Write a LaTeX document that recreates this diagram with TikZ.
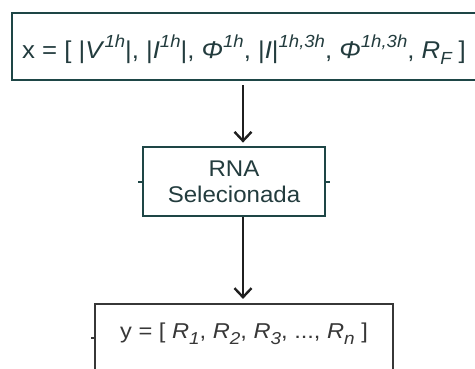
\documentclass[tikz,border=0pt]{standalone}
\usepackage{fontspec}
\usepackage{graphicx}
\setmainfont{Liberation Sans}
\usetikzlibrary{arrows.meta,calc}
\definecolor{boxteal}{RGB}{30,70,70}
\definecolor{boxgray}{RGB}{55,55,55}
\definecolor{txtteal}{RGB}{35,60,62}
\newcommand{\supx}[1]{\raisebox{0.42em}{\scalebox{0.72}{\itshape #1}}}
\newcommand{\subx}[1]{\raisebox{-0.28em}{\scalebox{0.72}{\itshape #1}}}
\newcommand{\suby}[1]{\raisebox{-0.3em}{\scalebox{0.8}{\itshape #1}}}
\newcommand{\wide}[1]{\scalebox{1.06}[1]{#1}}
\tikzset{
  tealbox/.style={draw=boxteal, line width=2.8pt, inner sep=0pt},
  graybox/.style={draw=boxgray, line width=2.2pt, inner sep=0pt},
  arrowline/.style={draw=black!88, line width=2.6pt, -{Straight Barb[length=9pt,width=17pt,line width=2.4pt]}},
  tick/.style={line width=2.6pt},
}
\begin{document}
\begin{tikzpicture}[x=1pt,y=1pt]
\useasboundingbox (0,0) rectangle (475,368);
\clip (0,0) rectangle (475,368);
\fill[white] (0,0) rectangle (475,368);
% top box
\node[tealbox, minimum width=468pt, minimum height=67pt] (xin) at (246,321.5) {};
\node[text=txtteal, font=\fontsize{24.3}{28}\selectfont] (xtext) at (244,318)
  {\wide{x = [ |\textit{V}\supx{1h}|, |\textit{I}\supx{1h}|, \textit{Φ}\supx{1h}, |\textit{I}|\supx{1h,3h}, \textit{Φ}\supx{1h,3h}, \textit{R}\subx{F} ]}};
% middle box
\node[tealbox, minimum width=182pt, minimum height=69pt, text=txtteal, align=center,
      font=\fontsize{22.7}{26}\selectfont] (rna) at (234,186.5) {\wide{RNA}\\\wide{Selecionada}};
% bottom box
\node[graybox, minimum width=298pt, minimum height=76pt] (yout) at (244,26) {};
\node[text=boxgray, font=\fontsize{21.5}{24}\selectfont] (ytext) at (244,34)
  {\scalebox{1.1}[1]{y = [ \textit{R}\suby{1}, \textit{R}\suby{2}, \textit{R}\suby{3}, ..., \textit{R}\suby{n} ]}};
% connectors
\coordinate (ax) at (243,0);
\draw[arrowline, shorten <=4pt, shorten >=3pt] (xin.south -| ax) -- (rna.north -| ax);
\draw[arrowline, shorten >=4pt] (rna.south -| ax) -- (yout.north -| ax);
% stub ticks
\draw[tick, draw=boxteal] ($(rna.west)+(0,-0.5)$) -- ++(-4,0);
\draw[tick, draw=boxteal] ($(rna.east)+(0,-0.5)$) -- ++(4,0);
\draw[tick, draw=boxgray] ($(yout.west)+(0,4)$) -- ++(-3,0);
\end{tikzpicture}
\end{document}
